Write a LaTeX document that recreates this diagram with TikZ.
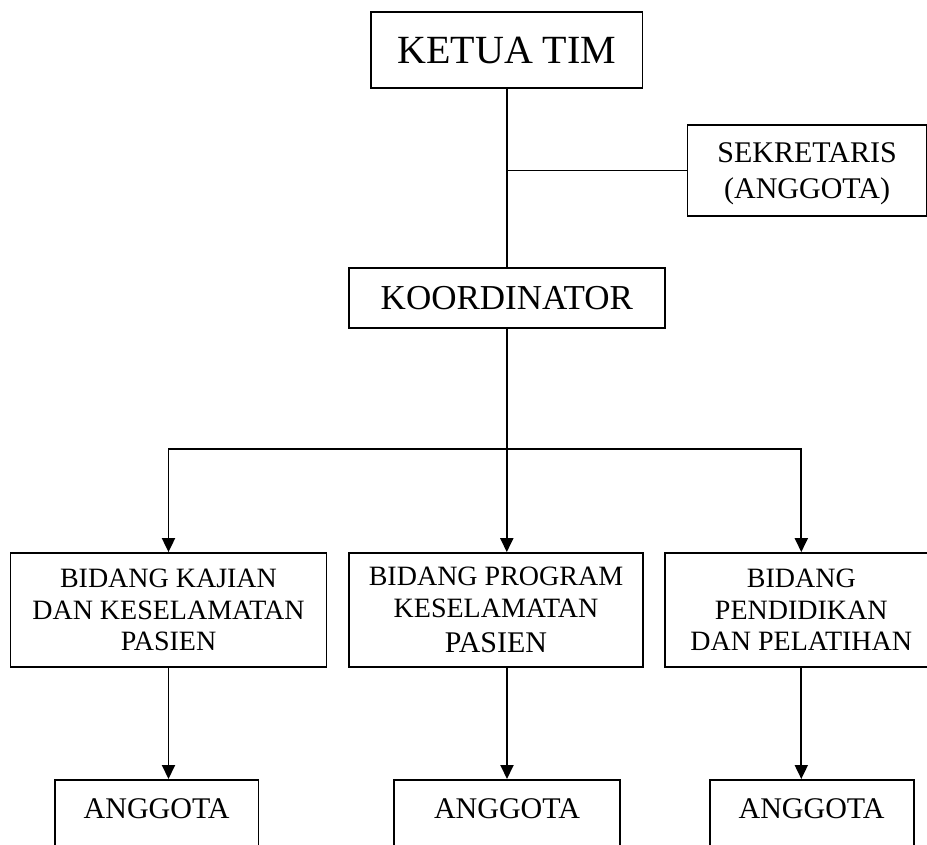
\documentclass[tikz,border=0pt]{standalone}
\usepackage{fontspec}
\setmainfont{Liberation Serif}
\usetikzlibrary{arrows.meta}
\tikzset{
  boxnode/.style={draw=black, line width=1.8pt, rectangle, inner sep=0pt, align=center},
  conn/.style={line width=1.9pt},
  arr/.style={line width=1.9pt, -{Triangle[length=14pt,width=13pt]}},
  ffour/.style={font=\fontsize{40pt}{48pt}\selectfont},
  fthirtyfive/.style={font=\fontsize{35pt}{42pt}\selectfont},
  fthirty/.style={font=\fontsize{30pt}{36.7pt}\selectfont},
  fbid/.style={font=\fontsize{28pt}{31.7pt}\selectfont},
}
\begin{document}
\begin{tikzpicture}[x=1pt,y=-1pt]
\clip (0,0) rectangle (927,844);
\fill[white] (0,0) rectangle (927,844);

\node[boxnode, ffour, minimum width=271.5pt, minimum height=76pt] (ketua) at (506.8,50) {KETUA TIM};
\node[boxnode, fthirty, text depth=0pt, minimum width=239.2pt, minimum height=91pt] (sek) at (807.1,170.5) {SEKRETARIS\\(ANGGOTA)};
\node[boxnode, fthirtyfive, minimum width=316.4pt, minimum height=60pt] (koor) at (506.8,298) {KOORDINATOR};

\node[boxnode, fbid, minimum width=316pt, minimum height=114pt] (b1) at (168.5,610) {BIDANG KAJIAN\\DAN KESELAMATAN\\PASIEN};
\node[boxnode, fbid, minimum width=294pt, minimum height=114pt] (b2) at (496,610) {BIDANG PROGRAM\\KESELAMATAN\\[3pt]{\fontsize{30pt}{31.7pt}\selectfont PASIEN}};
\node[boxnode, fbid, minimum width=272.6pt, minimum height=114pt] (b3) at (801.3,610) {BIDANG\\PENDIDIKAN\\DAN PELATIHAN};

\tikzset{anggota/.style={boxnode, font=\fontsize{30pt}{36pt}\selectfont, text height=20pt, text depth=40pt, inner ysep=19pt, anchor=north}}
\node[anggota, minimum width=203.4pt] (a1) at (156.7,779) {ANGGOTA};
\node[anggota, minimum width=226pt] (a2) at (507,779) {ANGGOTA};
\node[anggota, minimum width=204pt] (a3) at (811.6,779) {ANGGOTA};

\coordinate (j) at (506.8,449.3);

\draw[conn] (ketua.south) -- (koor.north);
\draw[conn] (ketua.south |- sek.west) -- (sek.west);
\draw[conn] (koor.south) -- (j);
\draw[arr] (j) -| (b1.north);
\draw[arr] (j) -| (b3.north);
\draw[arr] (j) -- (j |- b2.north);

\draw[arr] (b1.south) -- (b1.south |- a1.north);
\draw[arr] (b2.south -| a2.north) -- (a2.north);
\draw[arr] (b3.south) -- (b3.south |- a3.north);
\end{tikzpicture}
\end{document}
